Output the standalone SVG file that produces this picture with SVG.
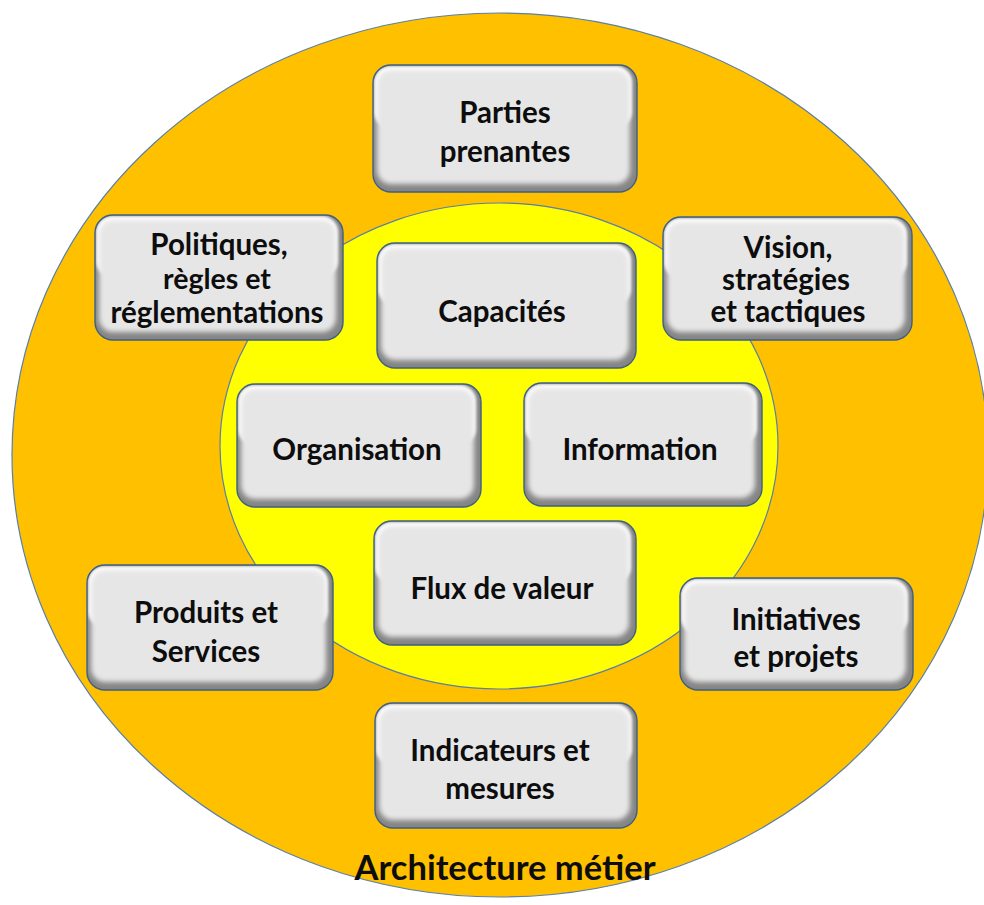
<svg xmlns="http://www.w3.org/2000/svg" width="984" height="905" viewBox="0 0 984 905">
  <style>
    .lbl { font-family: Lato, "Open Sans", "Liberation Sans", sans-serif; font-weight: 700; font-size: 29.5px; fill: #0d0d0d; text-anchor: middle; }
    .tight { font-size: 28.5px; }
    .title { font-family: Lato, "Open Sans", "Liberation Sans", sans-serif; font-weight: 700; font-size: 34.5px; fill: #0d0d0d; text-anchor: middle; }
    .base { fill: #858585; }
    .hi { fill: #ffffff; filter: url(#soft1); }
    .face { fill: #e6e6e6; filter: url(#soft2); }
    .edge { fill: none; stroke: #3d5f84; stroke-width: 1.4; }
  </style>
  <defs>
    <filter id="soft1" x="-10%" y="-20%" width="120%" height="140%">
      <feGaussianBlur stdDeviation="1.5"/>
    </filter>
    <filter id="soft2" x="-10%" y="-20%" width="120%" height="140%">
      <feGaussianBlur stdDeviation="2.5"/>
    </filter>
    <clipPath id="boxclip" clipPathUnits="objectBoundingBox">
      <rect x="0" y="0" width="1" height="1" rx="0.07" ry="0.14"/>
    </clipPath>
  </defs>

  <!-- outer ring: business architecture -->
  <ellipse id="outer" cx="500" cy="455" rx="488" ry="442" fill="#ffc000" stroke="#5a7fa8" stroke-width="1.2"/>
  <!-- inner core -->
  <ellipse id="inner" cx="499" cy="446" rx="279" ry="243" fill="#ffff00" stroke="#5a7fa8" stroke-width="1.2"/>

  <!-- no connectors in this diagram -->
  <g id="connectors"/>

  <g id="parties-prenantes">
    <g clip-path="url(#boxclip)">
      <rect class="base" x="373" y="65" width="264" height="127" rx="18"/>
      <rect class="hi" x="374" y="66" width="258" height="62" rx="16"/>
      <rect class="face" x="377" y="70" width="253" height="114" rx="14"/>
    </g>
    <rect class="edge" x="373" y="65" width="264" height="127" rx="18"/>
    <text class="lbl" x="505" y="123">Parties</text>
    <text class="lbl" x="505" y="162">prenantes</text>
  </g>

  <g id="politiques">
    <g clip-path="url(#boxclip)">
      <rect class="base" x="95" y="215" width="248" height="125" rx="18"/>
      <rect class="hi" x="96" y="216" width="242" height="61" rx="16"/>
      <rect class="face" x="99" y="220" width="237" height="112" rx="14"/>
    </g>
    <rect class="edge" x="95" y="215" width="248" height="125" rx="18"/>
    <text class="lbl" x="219" y="255">Politiques,</text>
    <text class="lbl tight" x="217" y="289">règles et</text>
    <text class="lbl" x="217" y="323">réglementations</text>
  </g>

  <g id="vision">
    <g clip-path="url(#boxclip)">
      <rect class="base" x="663" y="217" width="249" height="123" rx="18"/>
      <rect class="hi" x="664" y="218" width="243" height="60" rx="16"/>
      <rect class="face" x="667" y="222" width="238" height="110" rx="14"/>
    </g>
    <rect class="edge" x="663" y="217" width="249" height="123" rx="18"/>
    <text class="lbl" x="788" y="258">Vision,</text>
    <text class="lbl" x="786" y="290">stratégies</text>
    <text class="lbl" x="788" y="322">et tactiques</text>
  </g>

  <g id="capacites">
    <g clip-path="url(#boxclip)">
      <rect class="base" x="377" y="243" width="259" height="125" rx="18"/>
      <rect class="hi" x="378" y="244" width="253" height="61" rx="16"/>
      <rect class="face" x="381" y="248" width="248" height="112" rx="14"/>
    </g>
    <rect class="edge" x="377" y="243" width="259" height="125" rx="18"/>
    <text class="lbl" x="502" y="322">Capacités</text>
  </g>

  <g id="organisation">
    <g clip-path="url(#boxclip)">
      <rect class="base" x="237" y="384" width="244" height="123" rx="18"/>
      <rect class="hi" x="238" y="385" width="238" height="60" rx="16"/>
      <rect class="face" x="241" y="389" width="233" height="110" rx="14"/>
    </g>
    <rect class="edge" x="237" y="384" width="244" height="123" rx="18"/>
    <text class="lbl" x="357" y="460">Organisation</text>
  </g>

  <g id="information">
    <g clip-path="url(#boxclip)">
      <rect class="base" x="524" y="383" width="238" height="123" rx="18"/>
      <rect class="hi" x="525" y="384" width="232" height="60" rx="16"/>
      <rect class="face" x="528" y="388" width="227" height="110" rx="14"/>
    </g>
    <rect class="edge" x="524" y="383" width="238" height="123" rx="18"/>
    <text class="lbl" x="640" y="460">Information</text>
  </g>

  <g id="flux-de-valeur">
    <g clip-path="url(#boxclip)">
      <rect class="base" x="374" y="521" width="262" height="124" rx="18"/>
      <rect class="hi" x="375" y="522" width="256" height="61" rx="16"/>
      <rect class="face" x="378" y="526" width="251" height="111" rx="14"/>
    </g>
    <rect class="edge" x="374" y="521" width="262" height="124" rx="18"/>
    <text class="lbl" x="502" y="599">Flux de valeur</text>
  </g>

  <g id="produits-services">
    <g clip-path="url(#boxclip)">
      <rect class="base" x="87" y="565" width="246" height="125" rx="18"/>
      <rect class="hi" x="88" y="566" width="240" height="61" rx="16"/>
      <rect class="face" x="91" y="570" width="235" height="112" rx="14"/>
    </g>
    <rect class="edge" x="87" y="565" width="246" height="125" rx="18"/>
    <text class="lbl" x="206" y="623">Produits et</text>
    <text class="lbl" x="206" y="662">Services</text>
  </g>

  <g id="initiatives-projets">
    <g clip-path="url(#boxclip)">
      <rect class="base" x="680" y="578" width="233" height="112" rx="18"/>
      <rect class="hi" x="681" y="579" width="227" height="55" rx="16"/>
      <rect class="face" x="684" y="583" width="222" height="99" rx="14"/>
    </g>
    <rect class="edge" x="680" y="578" width="233" height="112" rx="18"/>
    <text class="lbl" x="796" y="630">Initiatives</text>
    <text class="lbl" x="796" y="667">et projets</text>
  </g>

  <g id="indicateurs-mesures">
    <g clip-path="url(#boxclip)">
      <rect class="base" x="375" y="703" width="262" height="125" rx="18"/>
      <rect class="hi" x="376" y="704" width="256" height="61" rx="16"/>
      <rect class="face" x="379" y="708" width="251" height="112" rx="14"/>
    </g>
    <rect class="edge" x="375" y="703" width="262" height="125" rx="18"/>
    <text class="lbl" x="500" y="761">Indicateurs et</text>
    <text class="lbl" x="500" y="799">mesures</text>
  </g>

  <text id="caption" class="title" x="505" y="880">Architecture métier</text>
</svg>
